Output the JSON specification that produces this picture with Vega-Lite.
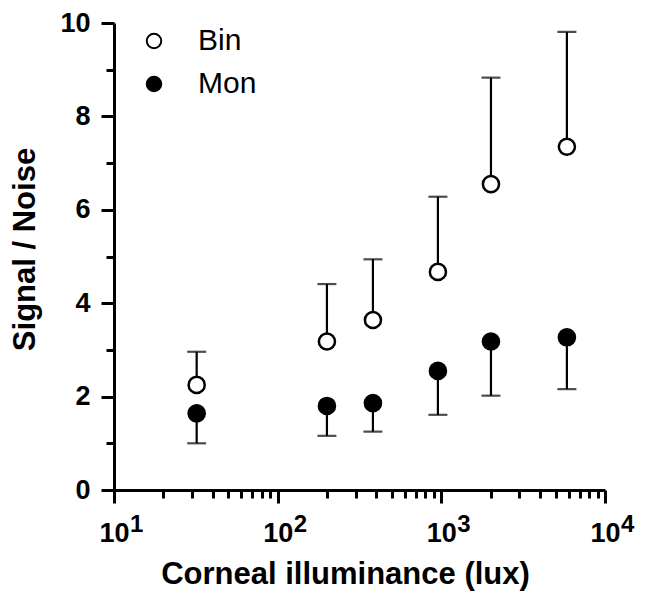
{
  "$schema": "https://vega.github.io/schema/vega-lite/v6.json",
  "width": 491,
  "height": 467,
  "autosize": {"type": "none"},
  "padding": {"left": 114, "top": 23, "right": 40, "bottom": 108},
  "background": "white",
  "config": {
    "view": {"stroke": null},
    "font": "Liberation Sans",
    "axis": {"grid": false}
  },
  "datasets": {
    "points": [
      {"lux": 32, "series": "Bin", "sn": 2.25, "err": 2.96},
      {"lux": 200, "series": "Bin", "sn": 3.18, "err": 4.41},
      {"lux": 382, "series": "Bin", "sn": 3.64, "err": 4.94},
      {"lux": 953, "series": "Bin", "sn": 4.67, "err": 6.28},
      {"lux": 2010, "series": "Bin", "sn": 6.55, "err": 8.83},
      {"lux": 5850, "series": "Bin", "sn": 7.35, "err": 9.81},
      {"lux": 32, "series": "Mon", "sn": 1.64, "err": 1.0},
      {"lux": 200, "series": "Mon", "sn": 1.8, "err": 1.16},
      {"lux": 382, "series": "Mon", "sn": 1.86, "err": 1.25},
      {"lux": 953, "series": "Mon", "sn": 2.55, "err": 1.61},
      {"lux": 2010, "series": "Mon", "sn": 3.18, "err": 2.02},
      {"lux": 5850, "series": "Mon", "sn": 3.27, "err": 2.16}
    ],
    "exponents": [
      {"lux": 10, "exp": "1"},
      {"lux": 100, "exp": "2"},
      {"lux": 1000, "exp": "3"},
      {"lux": 10000, "exp": "4"}
    ]
  },
  "layer": [
    {
      "data": {"name": "points"},
      "mark": {"type": "rule", "color": "black", "strokeWidth": 2.2},
      "encoding": {
        "x": {
          "field": "lux", "type": "quantitative",
          "scale": {"type": "log", "domain": [10, 10000], "nice": false},
          "axis": {
            "title": "Corneal illuminance (lux)",
            "values": [10, 20, 30, 40, 50, 60, 70, 80, 90, 100, 200, 300, 400, 500, 600, 700, 800, 900, 1000, 2000, 3000, 4000, 5000, 6000, 7000, 8000, 9000, 10000],
            "labelExpr": "(datum.value == 10 || datum.value == 100 || datum.value == 1000 || datum.value == 10000) ? '10' : ''",
            "tickSize": {"condition": {"test": "datum.value == 10 || datum.value == 100 || datum.value == 1000 || datum.value == 10000", "value": 13}, "value": 8},
            "tickWidth": 3,
            "tickColor": "black",
            "domainColor": "black",
            "domainWidth": 3,
            "labelFont": "Liberation Sans",
            "labelFontWeight": "bold",
            "labelFontSize": 27,
            "labelColor": "black",
            "labelPadding": 17,
            "labelOverlap": false,
            "labelFlush": false,
            "titleFont": "Liberation Sans",
            "titleFontWeight": "bold",
            "titleFontSize": 31,
            "titleColor": "black",
            "titleBaseline": "alphabetic",
            "titleX": 231,
            "titleY": 93
          }
        },
        "y": {
          "field": "sn", "type": "quantitative",
          "scale": {"domain": [0, 10], "nice": false},
          "axis": {
            "title": "Signal / Noise",
            "values": [0, 1, 2, 3, 4, 5, 6, 7, 8, 9, 10],
            "labelExpr": "datum.value % 2 == 0 ? datum.label : ''",
            "tickSize": {"condition": {"test": "datum.value % 2 == 0", "value": 13}, "value": 8},
            "tickWidth": 3,
            "tickColor": "black",
            "domainColor": "black",
            "domainWidth": 3,
            "labelFont": "Liberation Sans",
            "labelFontWeight": "bold",
            "labelFontSize": 27,
            "labelColor": "black",
            "labelPadding": 11,
            "labelFlush": false,
            "labelOverlap": false,
            "titleFont": "Liberation Sans",
            "titleFontWeight": "bold",
            "titleFontSize": 31,
            "titleColor": "black",
            "titleBaseline": "alphabetic",
            "titleAngle": 270,
            "titleX": -80,
            "titleY": 226
          }
        },
        "y2": {"field": "err"}
      }
    },
    {
      "data": {"name": "points"},
      "mark": {"type": "tick", "orient": "horizontal", "color": "black", "size": 19, "thickness": 2.2},
      "encoding": {
        "x": {"field": "lux", "type": "quantitative"},
        "y": {"field": "err", "type": "quantitative"}
      }
    },
    {
      "data": {"name": "points"},
      "mark": {"type": "point", "shape": "circle", "filled": true, "size": 260, "stroke": "black", "strokeWidth": 2.5, "opacity": 1},
      "encoding": {
        "x": {"field": "lux", "type": "quantitative"},
        "y": {"field": "sn", "type": "quantitative"},
        "fill": {
          "field": "series", "type": "nominal",
          "scale": {"domain": ["Bin", "Mon"], "range": ["white", "black"]},
          "legend": {
            "title": null,
            "orient": "none",
            "legendX": 25,
            "legendY": 3,
            "padding": 0,
            "symbolType": "circle",
            "symbolSize": 210,
            "symbolStrokeColor": "black",
            "symbolStrokeWidth": 2,
            "symbolOpacity": 1,
            "labelFont": "Liberation Sans",
            "labelFontSize": 30,
            "labelColor": "black",
            "labelOffset": 29,
            "rowPadding": 13
          }
        }
      }
    },
    {
      "data": {"name": "exponents"},
      "mark": {"type": "text", "align": "left", "baseline": "alphabetic", "dx": 16, "dy": 42, "font": "Liberation Sans", "fontWeight": "bold", "fontSize": 24, "color": "black"},
      "encoding": {
        "x": {"field": "lux", "type": "quantitative"},
        "y": {"datum": 0, "type": "quantitative"},
        "text": {"field": "exp"}
      }
    }
  ]
}
